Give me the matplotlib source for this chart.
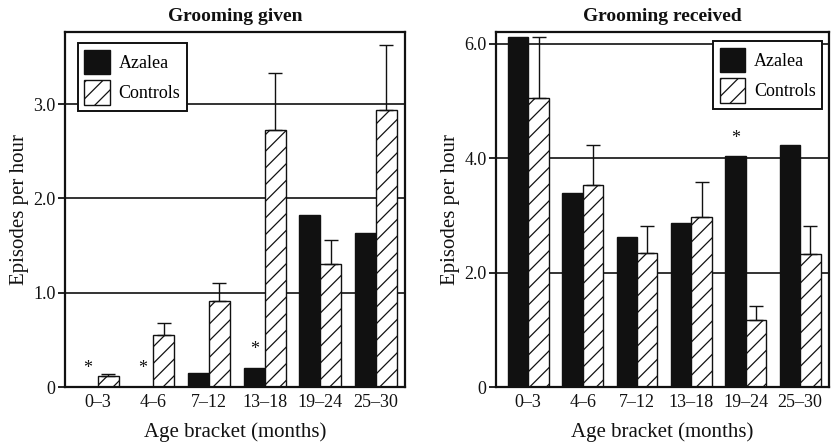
import numpy as np
import matplotlib
matplotlib.use('Agg')
import matplotlib.pyplot as plt
from matplotlib.patches import Patch

# Age brackets (months)
age_brackets = ['0\u20133', '4\u20136', '7\u201312', '13\u201318', '19\u201324', '25\u201330']

# Grooming given (episodes per hour)
given_azalea = [0.0, 0.0, 0.15, 0.20, 1.82, 1.63]
given_controls = [0.12, 0.55, 0.91, 2.72, 1.31, 2.94]
given_controls_err = [0.02, 0.13, 0.19, 0.61, 0.25, 0.69]
given_stars = [0, 1, 3]

# Grooming received (episodes per hour)
recv_azalea = [6.11, 3.40, 2.62, 2.86, 4.04, 4.23]
recv_controls = [5.05, 3.54, 2.35, 2.98, 1.18, 2.32]
recv_controls_err = [1.06, 0.70, 0.47, 0.61, 0.24, 0.50]
recv_stars = [4]

plt.rcParams['font.family'] = ['Liberation Serif', 'DejaVu Serif']
plt.rcParams['hatch.linewidth'] = 0.9
plt.rcParams['hatch.color'] = '#111111'

ink = '#111111'


def draw_panel(ax, azalea, controls, err, stars, title, yticks, yticklabels, ymax,
               star_off, legend_loc, legend_anchor):
    x = np.arange(len(age_brackets))
    w = 0.375
    for yv in yticks[1:]:
        ax.axhline(yv, color=ink, lw=1.2, zorder=0.5)
    ax.bar(x - w / 2, azalea, w, color=ink, edgecolor=ink, lw=1.0, zorder=2)
    ax.bar(x + w / 2, controls, w, color='white', edgecolor=ink, lw=1.0,
           hatch='//', zorder=2)
    ax.errorbar(x + w / 2, controls, yerr=[np.zeros(len(err)), err], fmt='none',
                ecolor=ink, elinewidth=1.0, capsize=5, capthick=1.0, zorder=3)
    for i in stars:
        ax.text(x[i] - w / 2, azalea[i] + star_off, '*', ha='center', va='center',
                fontsize=13, color=ink, zorder=4)

    ax.set_xlim(-0.59, len(age_brackets) - 0.47)
    ax.set_ylim(0, ymax)
    ax.set_xticks(x)
    ax.set_xticklabels(age_brackets, fontsize=13, color=ink)
    ax.set_yticks(yticks)
    ax.set_yticklabels(yticklabels, fontsize=13, color=ink)
    ax.tick_params(axis='x', length=0, pad=5)
    ax.tick_params(axis='y', length=5, width=1.2, direction='out', pad=2)
    for s in ax.spines.values():
        s.set_linewidth(1.6)
        s.set_color(ink)
    ax.set_title(title, fontsize=14, fontweight='bold', color=ink, pad=8)
    ax.set_xlabel('Age bracket (months)', fontsize=15, color=ink, labelpad=8)
    ax.set_ylabel('Episodes per hour', fontsize=15, color=ink, labelpad=3)

    handles = [Patch(facecolor=ink, edgecolor=ink, label='Azalea'),
               Patch(facecolor='white', edgecolor=ink, hatch='//', label='Controls')]
    leg = ax.legend(handles=handles, loc=legend_loc, bbox_to_anchor=legend_anchor,
                    fontsize=13, frameon=True, fancybox=False, framealpha=1,
                    edgecolor=ink, handlelength=1.4, handleheight=1.7,
                    borderpad=0.35, labelspacing=0.35, handletextpad=0.5,
                    borderaxespad=0)
    leg.get_frame().set_linewidth(1.4)
    leg.set_zorder(5)


fig = plt.figure(figsize=(8.34, 4.43), dpi=100)
fig.patch.set_facecolor('white')

ax1 = fig.add_axes([0.078, 0.126, 0.408, 0.801])
ax2 = fig.add_axes([0.595, 0.126, 0.399, 0.801])

draw_panel(ax1, given_azalea, given_controls, given_controls_err, given_stars,
           'Grooming given', [0, 1.0, 2.0, 3.0], ['0', '1.0', '2.0', '3.0'],
           3.76, 0.2, 'upper left', (0.038, 0.969))
draw_panel(ax2, recv_azalea, recv_controls, recv_controls_err, recv_stars,
           'Grooming received', [0, 2.0, 4.0, 6.0], ['0', '2.0', '4.0', '6.0'],
           6.2, 0.3, 'upper right', (0.979, 0.975))

fig.savefig('out.png', dpi=100, facecolor='white')
